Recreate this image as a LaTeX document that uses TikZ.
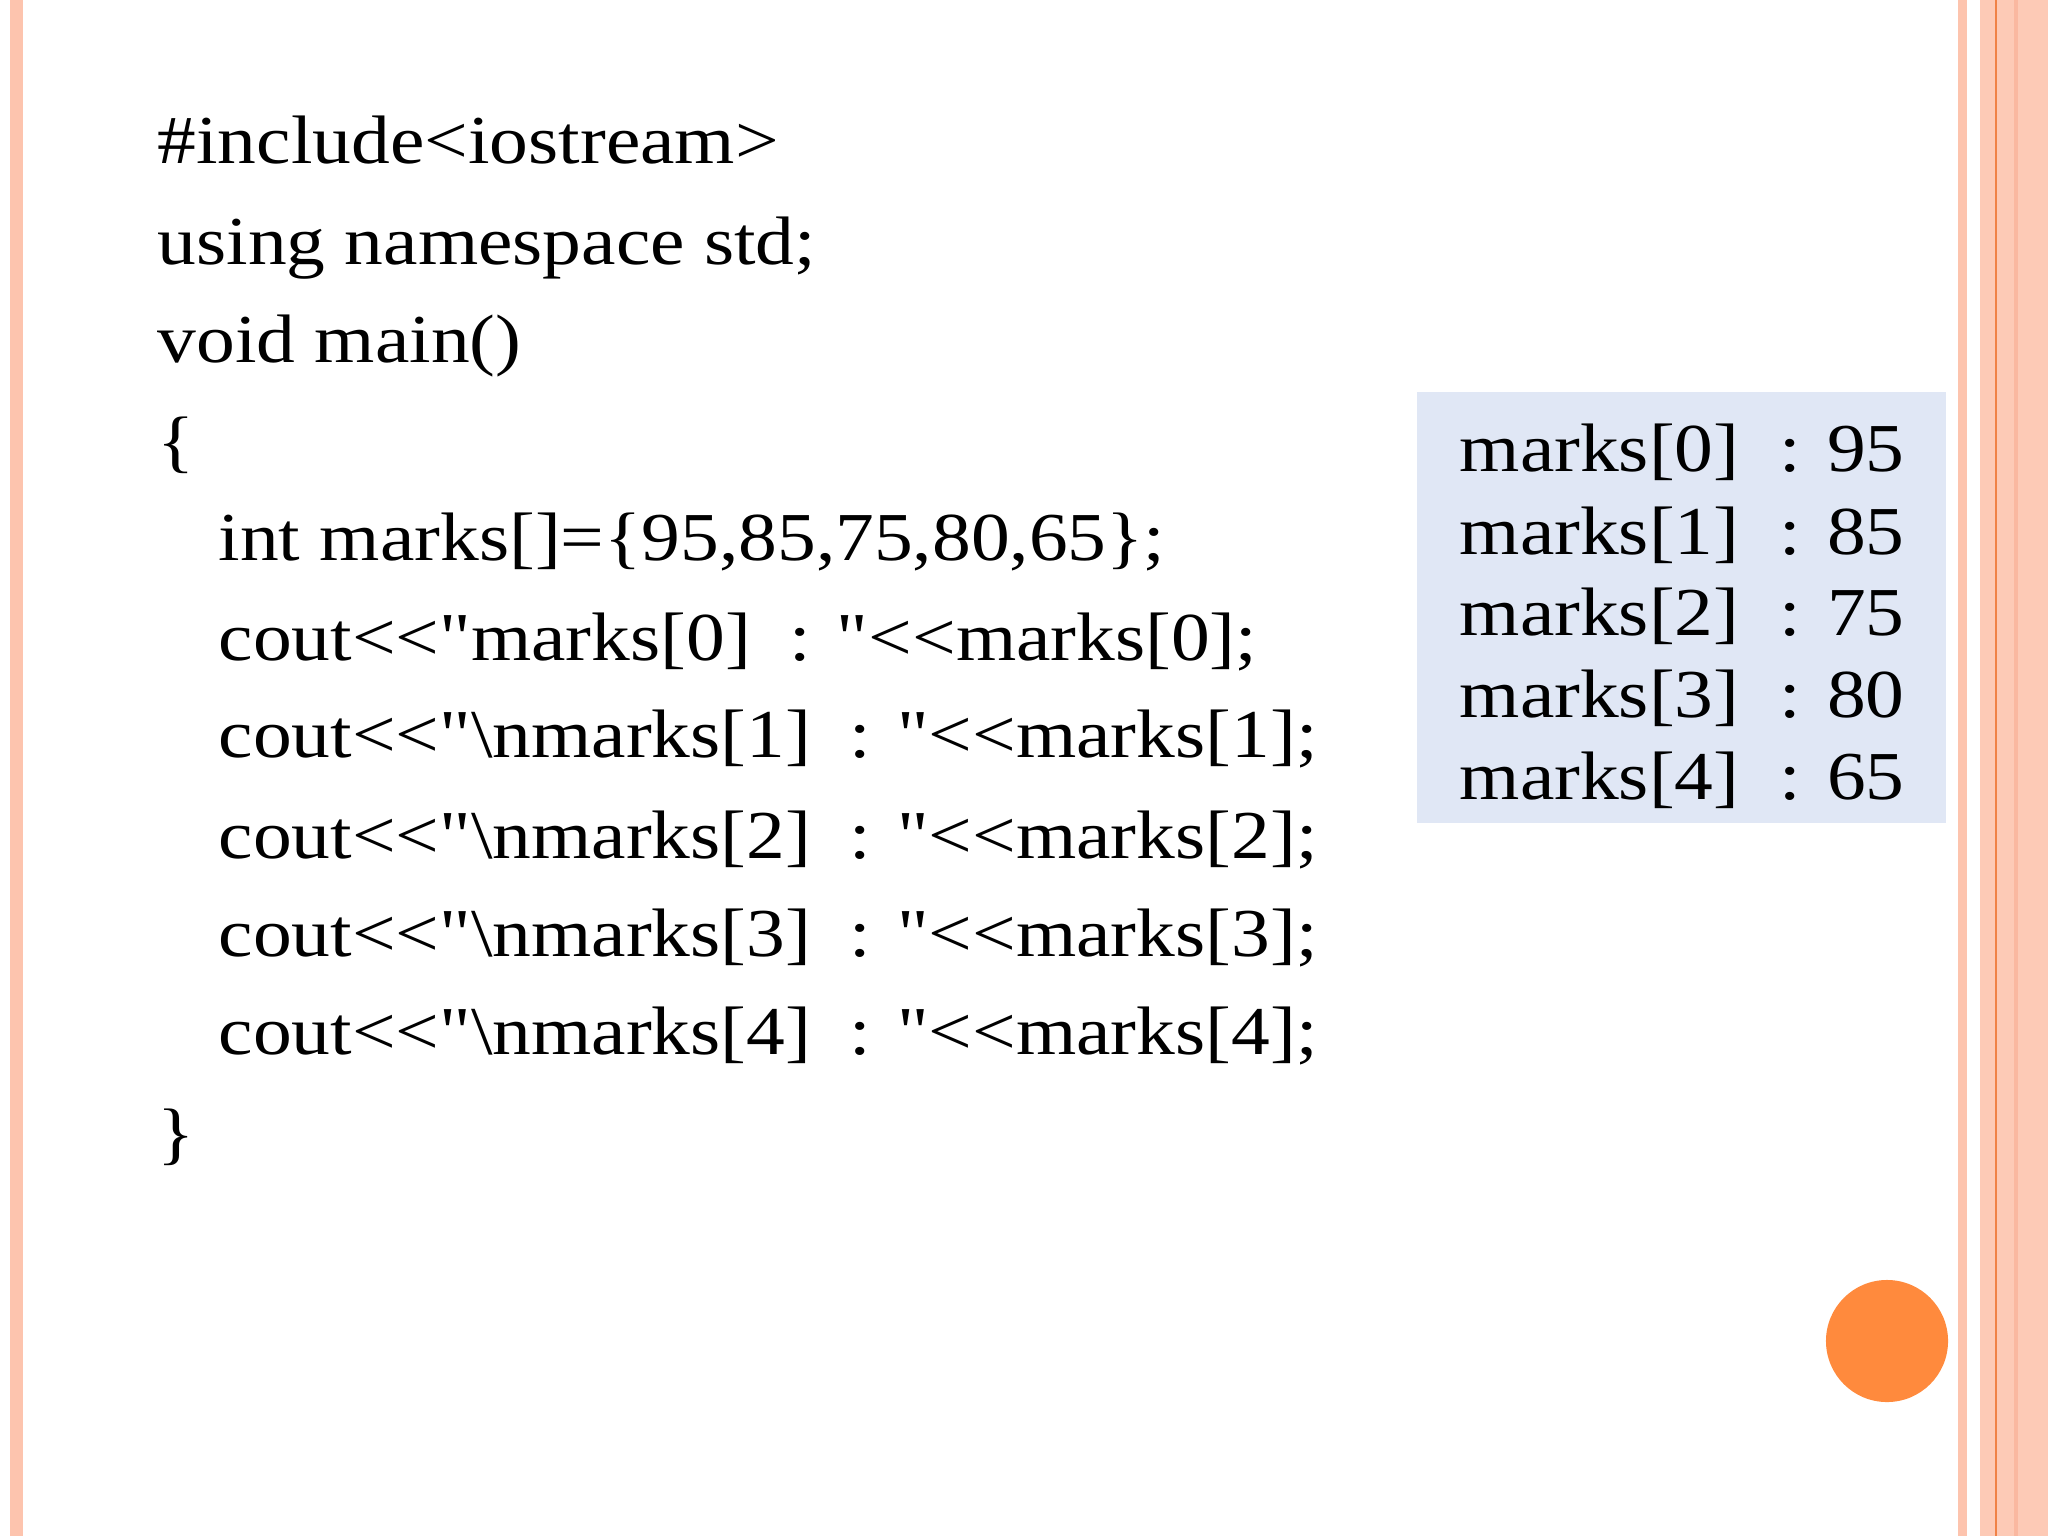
\documentclass[tikz,border=0pt]{standalone}
\usepackage{fontspec}
\newfontfamily\cf[FakeStretch=1.13]{Liberation Serif}
\begin{document}
\begin{tikzpicture}[x=0.01cm,y=-0.01cm,
  code/.style={anchor=base west,inner sep=0pt,font=\cf\fontsize{19.5}{22}\selectfont},
  outp/.style={anchor=base west,inner sep=0pt,font=\cf\fontsize{19.5}{22}\selectfont}]
\useasboundingbox (0,0) rectangle (2048,1536);
\fill[white] (0,0) rectangle (2048,1536);
\fill[fill={rgb,255:red,253;green,196;blue,174}] (10,0) rectangle (23,1536);
\fill[fill={rgb,255:red,253;green,196;blue,174}] (1958,0) rectangle (1967,1536);
\fill[fill={rgb,255:red,253;green,202;blue,182}] (1980,0) rectangle (2048,1536);
\fill[fill={rgb,255:red,250;green,184;blue,160}] (2014,0) rectangle (2018,1536);
\fill[fill={rgb,255:red,240;green,130;blue,70}] (1995,0) rectangle (1997,1536);
\fill[fill={rgb,255:red,224;green,231;blue,245}] (1417,392) rectangle (1946,823);
\fill[fill={rgb,255:red,255;green,138;blue,61}] (1887,1341) circle [radius=0.61cm];
\node[code] (l1) at (157,163) {\#include<iostream>};
\node[code] (l2) at (157,264) {using namespace std;};
\node[code] (l3) at (157,362) {void main()};
\node[code] (l4) at (157,464) {\{};
\node[code] (l5) at (218,560) {int marks[]=\{95,85,75,80,65\};};
\node[code] (l6) at (218,660) {cout<<"marks[0]\ \ : "<<marks[0];};
\node[code] (l7) at (218,757) {cout<<"\textbackslash nmarks[1]\ \ : "<<marks[1];};
\node[code] (l8) at (218,858) {cout<<"\textbackslash nmarks[2]\ \ : "<<marks[2];};
\node[code] (l9) at (218,956) {cout<<"\textbackslash nmarks[3]\ \ : "<<marks[3];};
\node[code] (l10) at (218,1054) {cout<<"\textbackslash nmarks[4]\ \ : "<<marks[4];};
\node[code] (l11) at (157,1156) {\}};
\foreach \i/\v/\y in {0/95/471,1/85/554,2/75/635,3/80/717,4/65/799}{
  \node[outp] (m\i) at (1459,\y) {marks[\i]};
  \node[outp] (v\i) at (1779,\y) {: \v};
}
\end{tikzpicture}
\end{document}
